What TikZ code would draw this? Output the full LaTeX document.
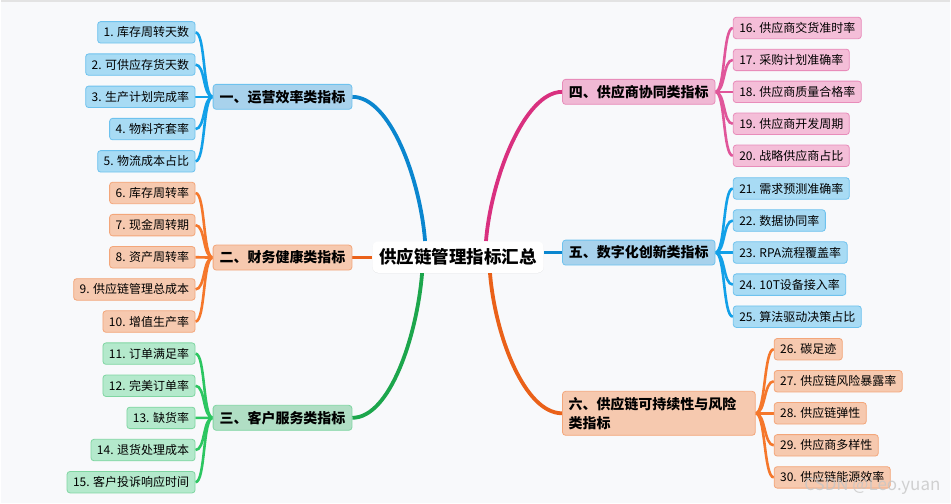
\documentclass[tikz,border=0pt]{standalone}
\usepackage{fontspec}
\setmainfont{Noto Sans CJK SC}
\usetikzlibrary{backgrounds,shadows}
\definecolor{paperBg}{HTML}{F8F9FB}
\definecolor{blueMain}{HTML}{0A86CF}
\definecolor{blueLine}{HTML}{12A0E8}
\definecolor{blueFill}{HTML}{A8DBF4}
\definecolor{blueCat}{HTML}{A8D2EC}
\definecolor{blueDraw}{HTML}{6EC2EE}
\definecolor{orangeMain}{HTML}{EA6119}
\definecolor{orangeLine}{HTML}{F5772B}
\definecolor{orangeFill}{HTML}{F6C9AF}
\definecolor{orangeDraw}{HTML}{F3A67A}
\definecolor{greenMain}{HTML}{1CA64C}
\definecolor{greenLine}{HTML}{2CC661}
\definecolor{greenFill}{HTML}{B4E9CC}
\definecolor{greenCat}{HTML}{B0DEC4}
\definecolor{greenDraw}{HTML}{80D6A2}
\definecolor{pinkMain}{HTML}{D9307F}
\definecolor{pinkLine}{HTML}{E0569A}
\definecolor{pinkFill}{HTML}{F4BED8}
\definecolor{pinkCat}{HTML}{F0B8D4}
\definecolor{pinkDraw}{HTML}{E88CBA}
\pgfdeclarelayer{paper}
\pgfsetlayers{paper,background,main}

\begin{document}
\begin{tikzpicture}[x=1pt,y=-1pt,
  leaf/.style={draw, rounded corners=3pt, line width=0.8pt, inner xsep=6pt, inner ysep=0pt,
    minimum height=21.5pt, font=\fontsize{12}{14}\selectfont},
  cat/.style={draw, rounded corners=3pt, line width=0.8pt, inner xsep=6pt, inner ysep=0pt,
    minimum height=25pt, font=\fontsize{14}{19}\selectfont\bfseries},
  hubbox/.style={fill=white, rounded corners=6pt, inner xsep=7pt, minimum height=31.5pt,
    font=\fontsize{17.5}{20}\selectfont\bfseries,
    drop shadow={shadow xshift=0pt, shadow yshift=-0.5pt, opacity=0.08, fill=black}},
  twig/.style={line width=2.6pt},
  limb/.style={line width=3.8pt},
  blueleaf/.style={fill=blueFill, draw=blueDraw},
  orangeleaf/.style={fill=orangeFill, draw=orangeDraw},
  greenleaf/.style={fill=greenFill, draw=greenDraw},
  pinkleaf/.style={fill=pinkFill, draw=pinkDraw}
]
\begin{pgfonlayer}{paper}
  \fill[paperBg] (0,0) rectangle (951,504);
  \draw[gray!22, line width=1.6pt] (0,0.8) -- (951,0.8);
\end{pgfonlayer}
\useasboundingbox (0,0) rectangle (951,504);

\node[hubbox] (hub) at (458,257.5) {供应链管理指标汇总};
\node[cat, fill=blueCat, draw=blueDraw, minimum width=139pt] (ops) at (282.2,97) {一、运营效率类指标};
\node[cat, orangeleaf, minimum width=139pt] (fin) at (282.2,258) {二、财务健康类指标};
\node[cat, fill=greenCat, draw=greenDraw, minimum width=139pt] (svc) at (282.2,418.5) {三、客户服务类指标};
\node[cat, fill=pinkCat, draw=pinkDraw, anchor=west, minimum width=152.7pt] (sup) at (562.3,92) {四、供应商协同类指标};
\node[cat, fill=blueCat, draw=blueDraw, anchor=west, minimum width=152.7pt] (dig) at (562.3,253) {五、数字化创新类指标};
\node[cat, orangeleaf, anchor=west, text width=181pt, align=left, minimum height=44pt] (risk) at (562.3,414)
  {六、供应链可持续性与风险\\类指标};

\begin{scope}[on background layer]
  \draw[limb, blueMain] (ops.east) .. controls +(38,0) and +(-5,-62) .. ([xshift=-33pt]hub.north);
  \draw[limb, orangeMain] (fin.east) -- (fin.east -| hub.west);
  \draw[limb, greenMain] (svc.east) .. controls +(38,0) and +(-5,62) .. ([xshift=-36pt]hub.south);
  \draw[limb, pinkMain] (sup.west) .. controls +(-38,0) and +(5,-62) .. ([xshift=28pt]hub.north);
  \draw[limb, blueMain] (dig.west -| hub.east) -- (dig.west);
  \draw[limb, orangeMain] (risk.west) .. controls +(-38,0) and +(5,62) .. ([xshift=32pt]hub.south);
\end{scope}

% left side: leaves hang off the west end of each category
\foreach \t [count=\i] in {1. 库存周转天数, 2. 可供应存货天数, 3. 生产计划完成率, 4. 物料齐套率, 5. 物流成本占比}{
  \node[leaf, blueleaf, anchor=east] (ops\i) at (195,{97+(\i-3)*32.3}) {\t};
  \begin{scope}[on background layer]
    \draw[twig, blueLine] (ops.west) .. controls +(-10,0) and +(10,0) .. (ops\i.east);
  \end{scope}
}
\foreach \t [count=\i] in {6. 库存周转率, 7. 现金周转期, 8. 资产周转率, 9. 供应链管理总成本, 10. 增值生产率}{
  \node[leaf, orangeleaf, anchor=east] (fin\i) at (195,{257.7+(\i-3)*32.2}) {\t};
  \begin{scope}[on background layer]
    \draw[twig, orangeLine] (fin.west) .. controls +(-10,0) and +(10,0) .. (fin\i.east);
  \end{scope}
}
\foreach \t [count=\i] in {11. 订单满足率, 12. 完美订单率, 13. 缺货率, 14. 退货处理成本, 15. 客户投诉响应时间}{
  \node[leaf, greenleaf, anchor=east] (svc\i) at (195,{418.6+(\i-3)*32.2}) {\t};
  \begin{scope}[on background layer]
    \draw[twig, greenLine] (svc.west) .. controls +(-10,0) and +(10,0) .. (svc\i.east);
  \end{scope}
}

% right side: leaves hang off the east end
\foreach \t [count=\i] in {16. 供应商交货准时率, 17. 采购计划准确率, 18. 供应商质量合格率, 19. 供应商开发周期, 20. 战略供应商占比}{
  \node[leaf, pinkleaf, anchor=west] (sup\i) at (733.3,{92+(\i-3)*32}) {\t};
  \begin{scope}[on background layer]
    \draw[twig, pinkLine] (sup.east) .. controls +(10,0) and +(-10,0) .. (sup\i.west);
  \end{scope}
}
\foreach \t [count=\i] in {21. 需求预测准确率, 22. 数据协同率, 23. RPA流程覆盖率, 24. 10T设备接入率, 25. 算法驱动决策占比}{
  \node[leaf, blueleaf, anchor=west] (dig\i) at (733.3,{253+(\i-3)*32.1}) {\t};
  \begin{scope}[on background layer]
    \draw[twig, blueLine] (dig.east) .. controls +(10,0) and +(-10,0) .. (dig\i.west);
  \end{scope}
}
\foreach \t [count=\i] in {26. 碳足迹, 27. 供应链风险暴露率, 28. 供应链弹性, 29. 供应商多样性, 30. 供应链能源效率}{
  \node[leaf, orangeleaf, anchor=west] (risk\i) at (774.3,{414+(\i-3)*32.1}) {\t};
  \begin{scope}[on background layer]
    \draw[twig, orangeLine] (risk.east) .. controls +(10,0) and +(-10,0) .. (risk\i.west);
  \end{scope}
}

\node[text=gray!45, opacity=0.8, font=\fontsize{17}{17}\selectfont] (mark) at (873,487) {CSDN @Leo.yuan};
\end{tikzpicture}
\end{document}
